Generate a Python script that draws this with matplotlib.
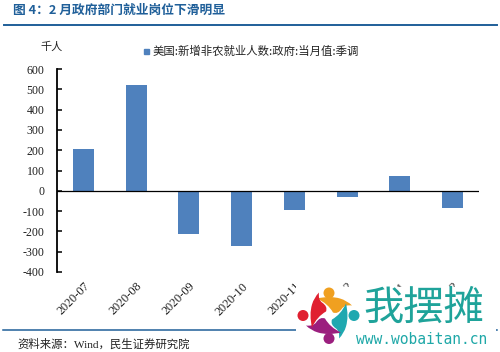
#!/usr/bin/env python3
import numpy as np
import matplotlib
matplotlib.use("Agg")
import matplotlib.pyplot as plt
from matplotlib.patches import Circle, Rectangle, PathPatch
from matplotlib.path import Path

# Data
months = ["2020-07", "2020-08", "2020-09", "2020-10", "2020-11", "2020-12", "2021-01", "2021-02"]
jobs = [205, 520, -215, -272, -95, -30, 75, -85]
yticks = [600, 500, 400, 300, 200, 100, 0, -100, -200, -300, -400]

TITLE = "图 4：2 月政府部门就业岗位下滑明显"
SERIES = "美国:新增非农就业人数:政府:当月值:季调"
SOURCE = "资料来源：Wind，民生证券研究院"

W, H = 500, 352
BLUE = "#4f81bd"
LINE = "#1f5f99"
CJK = ["Noto Sans CJK SC", "DejaVu Sans"]
SERIF = ["Liberation Serif", "Noto Sans CJK SC"]

fig = plt.figure(figsize=(W / 100, H / 100), dpi=100, facecolor="white")

# canvas in pixels for rules, text and the watermark
bg = fig.add_axes([0, 0, 1, 1], zorder=0)
bg.set_xlim(0, W)
bg.set_ylim(H, 0)
bg.axis("off")

# main axes: y axis at x=57, 600 at y=69, -400 at y=272
ax = fig.add_axes([57 / W, 1 - 272 / H, (479 - 57) / W, (272 - 69) / H], zorder=1)
ax.patch.set_alpha(0)
x = np.arange(len(months))
ax.bar(x, jobs, width=0.4, color=BLUE, zorder=2)
ax.set_xlim(-0.5, len(months) - 0.5)
ax.set_ylim(-400, 600)
ax.set_yticks(yticks)
ax.set_yticklabels([str(v) for v in yticks], family=SERIF, fontsize=8.6, color="#222222")
ax.set_xticks(x)
ax.set_xticklabels(months, rotation=45, ha="right", rotation_mode="anchor",
                   family=SERIF, fontsize=8.8, color="#222222")
ax.tick_params(axis="y", length=3.5, width=1.1, direction="in", pad=9)
ax.tick_params(axis="x", length=0, pad=6)
for side in ["top", "right", "bottom"]:
    ax.spines[side].set_visible(False)
ax.spines["left"].set_linewidth(1.3)
ax.axhline(0, color="black", linewidth=0.9, zorder=3)

# header, footer
bg.plot([4, 497], [25, 25], color=LINE, linewidth=1.4)
bg.plot([3, 497], [330, 330], color=LINE, linewidth=1.1)
bg.text(13, 10, TITLE, family=CJK, fontsize=9.2, fontweight="bold", color="#1f5f99", va="center")
bg.text(40, 47, "千人", family=CJK, fontsize=8, color="#222222", va="center")
bg.add_patch(Rectangle((143.5, 48.5), 5.5, 5.5, color=BLUE))
bg.text(153, 51, SERIES, family=CJK, fontsize=8.2, color="#222222", va="center")
bg.text(17, 344, SOURCE, family=SERIF, fontsize=8.2, color="#222222", va="center")

# watermark on top of the last tick labels
wm = fig.add_axes([0, 0, 1, 1], zorder=5)
wm.set_xlim(0, W)
wm.set_ylim(H, 0)
wm.axis("off")
wm.add_patch(Rectangle((296, 287), 200, 65, color="white", linewidth=0))

# logo: one petal outline (offsets from logo centre), turned a quarter each time
LOGO_C = np.array([329.0, 315.5])
PETAL = np.array([(-12, -17), (1, -20), (11, -17), (18, -15), (23, -10), (16, -11), (13, -7),
                  (9, -1), (4, -3), (-1, -12), (-12, -17)], dtype=float)
PETAL_CODES = [Path.MOVETO] + [Path.CURVE3] * 10
for turn, (color, blob) in enumerate([("#f0a020", (0, -22.5)), ("#1fa8b0", (25, 0)),
                                      ("#9b1f7e", (0, 23)), ("#e02030", (-26, 0))]):
    pts = PETAL.copy()
    for _ in range(turn):
        pts = np.column_stack([-pts[:, 1], pts[:, 0]])
    wm.add_patch(PathPatch(Path(pts + LOGO_C, PETAL_CODES), facecolor=color, edgecolor="none"))
    wm.add_patch(Circle(LOGO_C + blob, 5.5, color=color, linewidth=0))

wm.text(424, 308, "我摆摊", family=CJK, fontsize=29, color="#1fa39a", ha="center", va="center")
wm.text(422, 339, "www.wobaitan.cn", family="DejaVu Sans Mono", fontsize=10.5, color="#1fa8a8",
        ha="center", va="center")

fig.savefig("out.png", dpi=100)
